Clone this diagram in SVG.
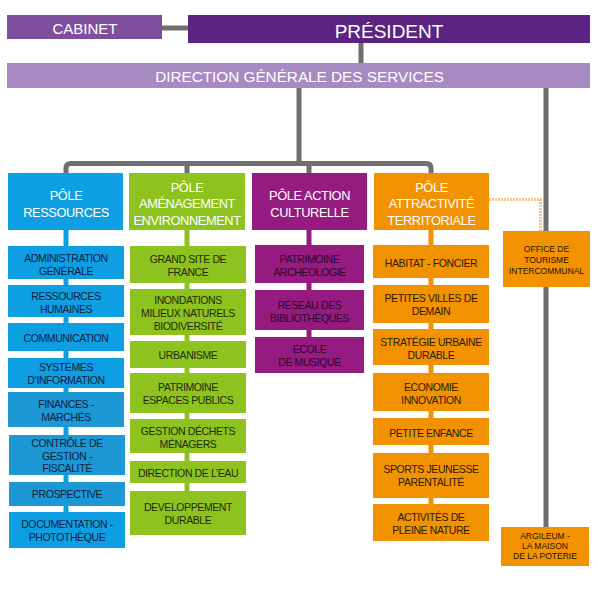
<svg xmlns="http://www.w3.org/2000/svg" width="598" height="604" viewBox="0 0 598 604">
<style>
text{font-family:"Liberation Sans",Arial,sans-serif;text-anchor:middle}
.top{fill:#fff}
.pole{fill:#fff;font-size:12.8px;letter-spacing:-0.4px}
.sub{font-size:10.5px;letter-spacing:-0.4px}
.small{font-size:8.5px;fill:#221500}
.gl{stroke:#6f6f6f;stroke-width:5;fill:none}
.b1{fill:#0d9fe1}.b2{fill:#1e97d5}.bt{fill:#10213f}
.g{fill:#8dc21f}.gt{fill:#1f2c08}
.p{fill:#951b81}.pt{fill:#2e0828}
.o{fill:#f39200}.ot{fill:#2e1a00}
</style>
<g id="connectors">
<line class="gl" x1="160" y1="28" x2="190" y2="28"/>
<line class="gl" x1="361" y1="42" x2="361" y2="64"/>
<line class="gl" x1="299" y1="87" x2="299" y2="164"/>
<path class="gl" d="M66,175 V168 Q66,163.5 71,163.5 H426 Q431,163.5 431,168 V175"/>
<line class="gl" x1="187" y1="163" x2="187" y2="175"/>
<line class="gl" x1="309" y1="163" x2="309" y2="175"/>
<line class="gl" x1="546" y1="87" x2="546" y2="528"/>
<line x1="66" y1="228" x2="66" y2="514" stroke="#0d9fe1" stroke-width="5"/>
<line x1="187" y1="228" x2="187" y2="493" stroke="#8dc21f" stroke-width="5"/>
<line x1="309" y1="228" x2="309" y2="339" stroke="#951b81" stroke-width="5"/>
<line x1="431" y1="228" x2="431" y2="506" stroke="#f39200" stroke-width="5"/>
<path d="M489,199.5 H540.5 V232" fill="none" stroke="#f7c48c" stroke-width="3" stroke-dasharray="2 1"/>
</g>
<g id="cabinet"><rect x="7" y="15" width="155" height="24" fill="#7f4f9e"/><text class="top" x="85" y="34" font-size="15">CABINET</text></g>
<g id="president"><rect x="188" y="15" width="402" height="28" fill="#5c2482"/><text class="top" x="389" y="38" font-size="19">PRÉSIDENT</text></g>
<g id="dgs"><rect x="7" y="63" width="583" height="25" fill="#a88ac2"/><text class="top" x="299.5" y="82" font-size="15.3">DIRECTION GÉNÉRALE DES SERVICES</text></g>

<g id="pole-ressources"><rect class="b1" x="8" y="173" width="115" height="57"/><text class="pole" x="66" y="200">PÔLE</text><text class="pole" x="66" y="217">RESSOURCES</text></g>
<g id="pole-amenagement"><rect class="g" x="129" y="173" width="116" height="57"/><text class="pole" x="187" y="192">PÔLE</text><text class="pole" x="187" y="208">AMÉNAGEMENT</text><text class="pole" x="187" y="225">ENVIRONNEMENT</text></g>
<g id="pole-culture"><rect class="p" x="252" y="173" width="115" height="57"/><text class="pole" x="309.5" y="200">PÔLE ACTION</text><text class="pole" x="309.5" y="217">CULTURELLE</text></g>
<g id="pole-attractivite"><rect class="o" x="374" y="173" width="115" height="57"/><text class="pole" x="431.5" y="192">PÔLE</text><text class="pole" x="431.5" y="208">ATTRACTIVITÉ</text><text class="pole" x="431.5" y="225">TERRITORIALE</text></g>

<g id="b-admin"><rect class="b1" x="8" y="246" width="116" height="33"/><text class="sub bt" x="66" y="262">ADMINISTRATION</text><text class="sub bt" x="66" y="275">GÉNÉRALE</text></g>
<g id="b-rh"><rect class="b1" x="8" y="285" width="116" height="32"/><text class="sub bt" x="66" y="300">RESSOURCES</text><text class="sub bt" x="66" y="313">HUMAINES</text></g>
<g id="b-comm"><rect class="b1" x="8" y="323" width="116" height="28"/><text class="sub bt" x="66" y="342">COMMUNICATION</text></g>
<g id="b-si"><rect class="b1" x="8" y="358" width="116" height="30"/><text class="sub bt" x="66" y="371">SYSTÈMES</text><text class="sub bt" x="66" y="384">D’INFORMATION</text></g>
<g id="b-fin"><rect class="b2" x="8" y="392" width="116" height="35"/><text class="sub bt" x="66" y="408">FINANCES -</text><text class="sub bt" x="66" y="421">MARCHÉS</text></g>
<g id="b-ctrl"><rect class="b2" x="9" y="435" width="116" height="40"/><text class="sub bt" x="67" y="447">CONTRÔLE DE</text><text class="sub bt" x="67" y="460">GESTION -</text><text class="sub bt" x="67" y="472">FISCALITÉ</text></g>
<g id="b-prosp"><rect class="b2" x="9" y="482" width="116" height="24"/><text class="sub bt" x="67" y="498">PROSPECTIVE</text></g>
<g id="b-doc"><rect class="b1" x="9" y="512" width="116" height="36"/><text class="sub bt" x="67" y="528">DOCUMENTATION -</text><text class="sub bt" x="67" y="541">PHOTOTHÈQUE</text></g>

<g id="g-gsf"><rect class="g" x="130" y="246" width="116" height="37"/><text class="sub gt" x="188" y="263">GRAND SITE DE</text><text class="sub gt" x="188" y="276">FRANCE</text></g>
<g id="g-inond"><rect class="g" x="130" y="289" width="116" height="46"/><text class="sub gt" x="188" y="304">INONDATIONS</text><text class="sub gt" x="188" y="317">MILIEUX NATURELS</text><text class="sub gt" x="188" y="330">BIODIVERSITÉ</text></g>
<g id="g-urba"><rect class="g" x="130" y="341" width="116" height="27"/><text class="sub gt" x="188" y="359">URBANISME</text></g>
<g id="g-patr"><rect class="g" x="130" y="373" width="116" height="40"/><text class="sub gt" x="188" y="391">PATRIMOINE</text><text class="sub gt" x="188" y="404">ESPACES PUBLICS</text></g>
<g id="g-dech"><rect class="g" x="130" y="419" width="116" height="34"/><text class="sub gt" x="188" y="435">GESTION DÉCHETS</text><text class="sub gt" x="188" y="448">MÉNAGERS</text></g>
<g id="g-eau"><rect class="g" x="130" y="461" width="116" height="22"/><text class="sub gt" x="188" y="477">DIRECTION DE L’EAU</text></g>
<g id="g-dd"><rect class="g" x="130" y="491" width="116" height="44"/><text class="sub gt" x="188" y="511">DEVELOPPEMENT</text><text class="sub gt" x="188" y="524">DURABLE</text></g>

<g id="p-arch"><rect class="p" x="255" y="245" width="109" height="38"/><text class="sub pt" x="309.5" y="263">PATRIMOINE</text><text class="sub pt" x="309.5" y="276">ARCHEOLOGIE</text></g>
<g id="p-bib"><rect class="p" x="255" y="290" width="109" height="40"/><text class="sub pt" x="309.5" y="309">RÉSEAU DES</text><text class="sub pt" x="309.5" y="322">BIBLIOTHÈQUES</text></g>
<g id="p-musique"><rect class="p" x="255" y="337" width="109" height="36"/><text class="sub pt" x="309.5" y="353">ECOLE</text><text class="sub pt" x="309.5" y="366">DE MUSIQUE</text></g>

<g id="o-habitat"><rect class="o" x="373" y="245" width="116" height="33"/><text class="sub ot" x="431" y="267">HABITAT - FONCIER</text></g>
<g id="o-pvd"><rect class="o" x="373" y="285" width="116" height="38"/><text class="sub ot" x="431" y="302">PETITES VILLES DE</text><text class="sub ot" x="431" y="315">DEMAIN</text></g>
<g id="o-strat"><rect class="o" x="373" y="329" width="116" height="36"/><text class="sub ot" x="431" y="346">STRATÉGIE URBAINE</text><text class="sub ot" x="431" y="359">DURABLE</text></g>
<g id="o-eco"><rect class="o" x="373" y="373" width="116" height="38"/><text class="sub ot" x="431" y="391">ECONOMIE</text><text class="sub ot" x="431" y="404">INNOVATION</text></g>
<g id="o-enf"><rect class="o" x="373" y="418" width="116" height="27"/><text class="sub ot" x="431" y="437">PETITE ENFANCE</text></g>
<g id="o-sport"><rect class="o" x="373" y="453" width="116" height="45"/><text class="sub ot" x="431" y="473">SPORTS JEUNESSE</text><text class="sub ot" x="431" y="486">PARENTALITÉ</text></g>
<g id="o-nature"><rect class="o" x="373" y="504" width="116" height="37"/><text class="sub ot" x="431" y="521">ACTIVITÉS DE</text><text class="sub ot" x="431" y="534">PLEINE NATURE</text></g>

<g id="office-tourisme"><rect class="o" x="503" y="231" width="87" height="56"/><text class="small" x="546.5" y="252">OFFICE DE</text><text class="small" x="546.5" y="263">TOURISME</text><text class="small" x="546.5" y="274">INTERCOMMUNAL</text></g>
<g id="argileum"><rect class="o" x="501" y="527" width="88" height="39"/><text class="small" x="545" y="539">ARGILEUM -</text><text class="small" x="545" y="549">LA MAISON</text><text class="small" x="545" y="559">DE LA POTERIE</text></g>
</svg>
